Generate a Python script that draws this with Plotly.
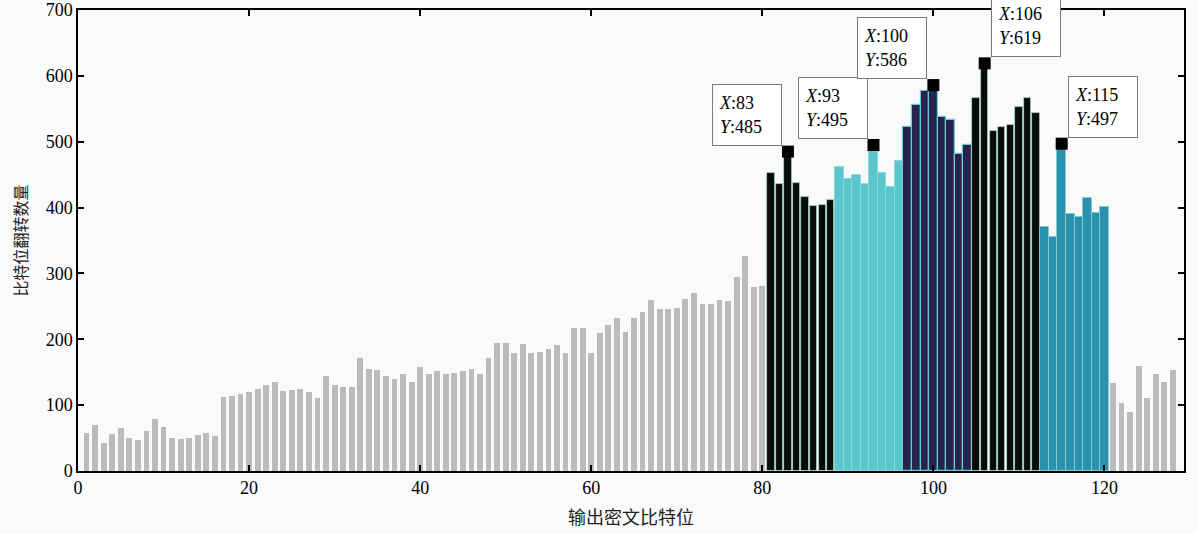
import plotly.graph_objects as go

# ---------------- data ----------------
bits = list(range(1, 129))
flips = [
    57, 70, 42, 56, 65, 50, 47, 60, 79, 67,
    50, 49, 50, 54, 57, 53, 112, 114, 117, 120,
    125, 130, 135, 122, 123, 125, 120, 111, 145, 130,
    127, 128, 171, 155, 153, 144, 140, 148, 135, 158,
    147, 152, 147, 149, 152, 155, 147, 172, 194, 194,
    179, 193, 179, 181, 185, 191, 179, 217, 217, 179,
    209, 221, 232, 211, 232, 241, 259, 246, 246, 248,
    261, 271, 253, 253, 259, 258, 295, 326, 279, 281,
    453, 436, 485, 437, 416, 402, 404, 411,
    462, 443, 450, 436, 495, 453, 431, 470,
    523, 556, 577, 586, 538, 533, 482, 495,
    567, 619, 517, 522, 525, 552, 567, 543,
    371, 356, 497, 391, 386, 414, 392, 401,
    134, 103, 90, 160, 111, 147, 135, 154,
]
# segments: (first bit, last bit, colour group)
segments = [
    (1, 80, "grey"), (81, 88, "black"), (89, 96, "cyan"), (97, 104, "navy"),
    (105, 112, "black"), (113, 120, "teal"), (121, 128, "grey"),
]
peak_x = [83, 93, 100, 106, 115]
peak_y = [485, 495, 586, 619, 497]
peak_side = ["left", "left", "left", "right", "right"]

x_ticks = [0, 20, 40, 60, 80, 100, 120]
y_ticks = [0, 100, 200, 300, 400, 500, 600, 700]
x_title = "输出密文比特位"
y_title = "比特位翻转数量"

styles = {
    "grey": dict(fill="#b9bcba", line="#b9bcba", lw=0, width=0.68),
    "black": dict(fill="#070b09", line="#a8dcc4", lw=0.8, width=0.86),
    "cyan": dict(fill="#5cc6cd", line="#86d8dd", lw=1, width=1.0),
    "navy": dict(fill="#26234e", line="#6cc9d6", lw=1.2, width=1.0),
    "teal": dict(fill="#2b92ae", line="#7fcad7", lw=1, width=1.0),
}

serif = "Liberation Serif, Times New Roman, serif"
cjk = "Noto Sans CJK SC, sans-serif"

fig = go.Figure()
for a, b, key in segments:
    st = styles[key]
    fig.add_trace(go.Bar(
        x=bits[a - 1:b], y=flips[a - 1:b], width=st["width"],
        marker=dict(color=st["fill"], line=dict(color=st["line"], width=st["lw"])),
        showlegend=False, hoverinfo="x+y",
    ))

fig.add_trace(go.Scatter(
    x=peak_x, y=peak_y, mode="markers",
    marker=dict(symbol="square", size=12, color="black", line=dict(width=0)),
    showlegend=False, cliponaxis=False,
))

for px, py, side in zip(peak_x, peak_y, peak_side):
    fig.add_annotation(
        x=px, y=py, xref="x", yref="y",
        text=f"<i>X</i>:{px}<br><i>Y</i>:{py}",
        showarrow=False, align="left",
        xanchor="right" if side == "left" else "left", yanchor="bottom",
        xshift=-6 if side == "left" else 6, yshift=6,
        width=56, height=48, borderpad=6,
        bgcolor="white", bordercolor="#7a7a7a", borderwidth=1,
        font=dict(family=serif, size=18, color="black"),
    )

axis_common = dict(
    showline=True, linecolor="black", linewidth=1.5, mirror="ticks",
    ticks="inside", ticklen=6, tickwidth=1.5, tickcolor="black",
    showgrid=False, zeroline=False, automargin=False,
    ticklabeloverflow="allow",
    tickfont=dict(family=serif, size=18, color="black"),
)

fig.update_layout(
    width=1197, height=534,
    margin=dict(l=78, r=13, t=10, b=63),
    paper_bgcolor="#fafafa", plot_bgcolor="#fafafa",
    barmode="overlay", bargap=0,
    xaxis=dict(range=[0, 129.3], tickvals=x_ticks,
               title=dict(text=x_title, font=dict(family=cjk, size=18, color="#222"), standoff=14),
               **axis_common),
    yaxis=dict(range=[0, 700], tickvals=y_ticks,
               title=dict(text=y_title, font=dict(family=cjk, size=16, color="#222"), standoff=14),
               **axis_common),
)

fig.write_html(
    "out.html",
    config={"displayModeBar": False},
    post_script="document.body.style.margin='0';document.body.style.overflow='hidden';",
)
